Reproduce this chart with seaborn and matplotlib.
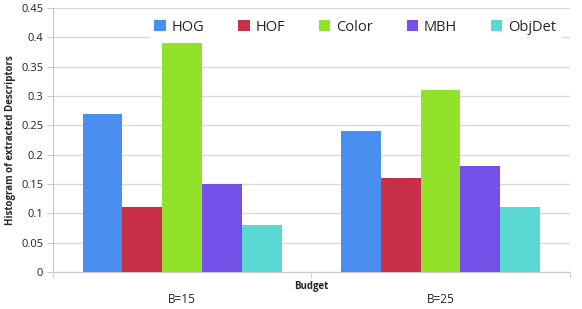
import matplotlib
matplotlib.use("Agg")
import matplotlib.pyplot as plt
import seaborn as sns
import pandas as pd

budgets = ["B=15", "B=25"]
descriptors = ["HOG", "HOF", "Color", "MBH", "ObjDet"]
hog = [0.27, 0.24]
hof = [0.11, 0.16]
color = [0.39, 0.31]
mbh = [0.15, 0.18]
objdet = [0.08, 0.11]
palette = ["#4a8ff0", "#c8304a", "#92e22a", "#7550e8", "#5ad9d4"]

rows = []
for name, vals in zip(descriptors, [hog, hof, color, mbh, objdet]):
    for b, v in zip(budgets, vals):
        rows.append({"Budget": b, "Descriptor": name, "Value": v})
df = pd.DataFrame(rows)

sns.set_style("white")
plt.rcParams["font.family"] = ["Open Sans", "DejaVu Sans"]

fig = plt.figure(figsize=(5.82, 3.09), dpi=100)
ax = fig.add_axes([0.091, 0.12, 0.888, 0.854])

sns.barplot(data=df, x="Budget", y="Value", hue="Descriptor", order=budgets,
            hue_order=descriptors, palette=palette, width=0.77, saturation=1,
            linewidth=0, ax=ax, zorder=3)

ax.set_ylim(0, 0.45)
ax.set_xlim(-0.5, 1.5)
ax.set_yticks([i * 0.05 for i in range(10)])
ax.set_yticklabels(["0", "0.05", "0.1", "0.15", "0.2", "0.25", "0.3", "0.35", "0.4", "0.45"])
ax.grid(axis="y", color="#d9d9d9", linewidth=1, zorder=0)
ax.set_axisbelow(True)

for s in ["top", "right"]:
    ax.spines[s].set_visible(False)
ax.spines["left"].set_color("#c8c8c8")
ax.spines["bottom"].set_color("#c8c8c8")
ax.tick_params(axis="y", left=True, length=4, color="#c8c8c8", labelsize=8, labelcolor="#222222", pad=3)
ax.tick_params(axis="x", which="major", bottom=False, labelsize=8.5, pad=12, labelcolor="#222222")
ax.set_xticks([-0.5, 0.5, 1.5], minor=True)
ax.tick_params(axis="x", which="minor", bottom=True, length=4, color="#c8c8c8")

ax.set_ylabel("Histogram of extracted Descriptors", fontsize=7, fontweight="bold", labelpad=4)
ax.set_xlabel("Budget", fontsize=7, fontweight="bold")
ax.xaxis.set_label_coords(0.5, -0.035)

ax.legend(loc="upper center", bbox_to_anchor=(0.585, 1.0), ncol=5, frameon=True,
          facecolor="white", edgecolor="white", framealpha=1, fontsize=10.5,
          handlelength=0.8, handleheight=0.8, handletextpad=0.4, columnspacing=2.3,
          borderpad=0.3)

fig.savefig("out.png", dpi=100)
